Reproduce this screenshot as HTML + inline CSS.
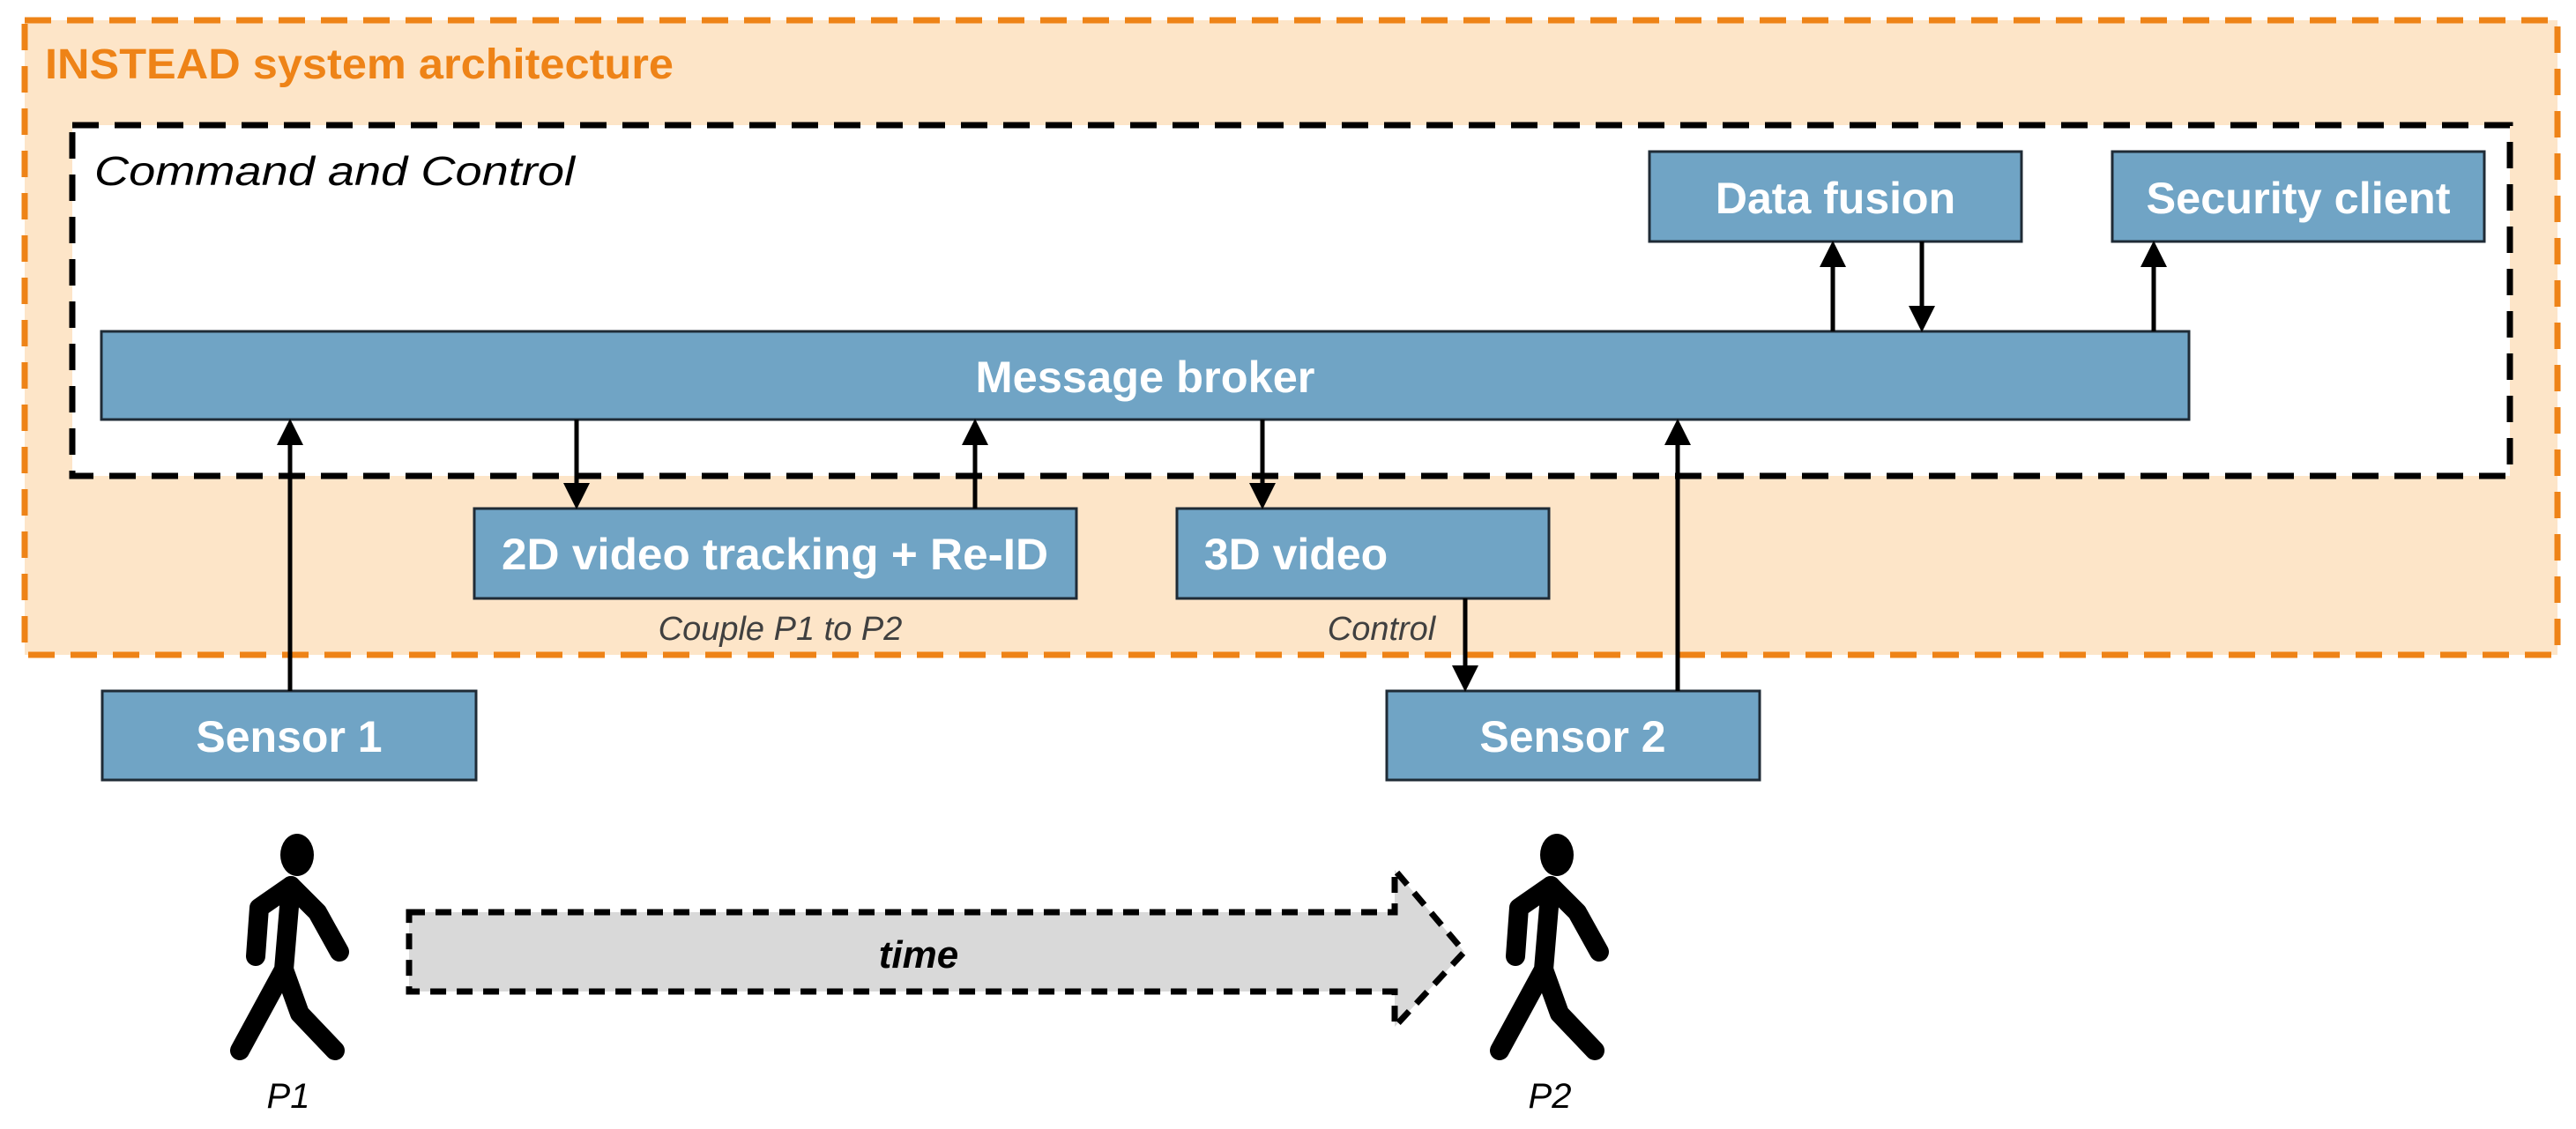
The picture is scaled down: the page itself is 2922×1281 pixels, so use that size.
<!DOCTYPE html>
<html><head><meta charset="utf-8"><style>
html,body{margin:0;padding:0;background:#fff;width:2922px;height:1281px;overflow:hidden}
svg{display:block}
text{font-family:"Liberation Sans",sans-serif}
.bx{fill:#70a4c5;stroke:#1f2b36;stroke-width:3}
.bt{fill:#fff;font-weight:bold;font-size:50px;text-anchor:middle}
.ar{stroke:#000;stroke-width:5;fill:none}
.fig{stroke:#000;stroke-width:22;stroke-linecap:round;stroke-linejoin:round;fill:none}
</style></head><body>
<svg width="2922" height="1281" viewBox="0 0 2922 1281" xmlns="http://www.w3.org/2000/svg">
<defs>
<marker id="ah" markerWidth="6" markerHeight="6" refX="5" refY="3" orient="auto" markerUnits="strokeWidth">
<path d="M0,0 L6,3 L0,6 z" fill="#000"/></marker>
</defs>
<rect x="28" y="23" width="2873" height="720" fill="#fde5c8" stroke="#ee8317" stroke-width="7" stroke-dasharray="30,18"/>
<text x="51" y="89" font-size="48" font-weight="bold" fill="#ee8317" textLength="713" lengthAdjust="spacingAndGlyphs">INSTEAD system architecture</text>
<rect x="82" y="142" width="2765" height="398" fill="#fff" stroke="#000" stroke-width="7" stroke-dasharray="30,18"/>
<text x="107" y="210" font-size="46" font-style="italic" fill="#000" textLength="545" lengthAdjust="spacingAndGlyphs">Command and Control</text>

<rect class="bx" x="115" y="376" width="2368" height="100"/>
<text class="bt" x="1299" y="445" textLength="385" lengthAdjust="spacingAndGlyphs">Message broker</text>
<rect class="bx" x="1871" y="172" width="422" height="102"/>
<text class="bt" x="2082" y="242">Data fusion</text>
<rect class="bx" x="2396" y="172" width="422" height="102"/>
<text class="bt" x="2607" y="242" textLength="345" lengthAdjust="spacingAndGlyphs">Security client</text>
<rect class="bx" x="538" y="577" width="683" height="102"/>
<text class="bt" x="879" y="646" textLength="620" lengthAdjust="spacingAndGlyphs">2D video tracking + Re-ID</text>
<rect class="bx" x="1335" y="577" width="422" height="102"/>
<text class="bt" x="1470" y="646">3D video</text>
<rect class="bx" x="116" y="784" width="424" height="101"/>
<text class="bt" x="328" y="853">Sensor 1</text>
<rect class="bx" x="1573" y="784" width="423" height="101"/>
<text class="bt" x="1784" y="853">Sensor 2</text>

<text x="885" y="726" font-size="38" font-style="italic" fill="#404040" text-anchor="middle">Couple P1 to P2</text>
<text x="1567" y="726" font-size="38" font-style="italic" fill="#404040" text-anchor="middle">Control</text>

<line class="ar" x1="329" y1="784" x2="329" y2="480" marker-end="url(#ah)"/>
<line class="ar" x1="654" y1="476" x2="654" y2="573" marker-end="url(#ah)"/>
<line class="ar" x1="1106" y1="577" x2="1106" y2="480" marker-end="url(#ah)"/>
<line class="ar" x1="1432" y1="476" x2="1432" y2="573" marker-end="url(#ah)"/>
<line class="ar" x1="1662" y1="679" x2="1662" y2="780" marker-end="url(#ah)"/>
<line class="ar" x1="1903" y1="784" x2="1903" y2="480" marker-end="url(#ah)"/>
<line class="ar" x1="2079" y1="376" x2="2079" y2="278" marker-end="url(#ah)"/>
<line class="ar" x1="2180" y1="274" x2="2180" y2="372" marker-end="url(#ah)"/>
<line class="ar" x1="2443" y1="376" x2="2443" y2="278" marker-end="url(#ah)"/>

<path d="M464,1035 L1582,1035 L1582,987 L1661,1080 L1582,1165 L1582,1125 L464,1125 Z" fill="#d9d9d9" stroke="#000" stroke-width="7" stroke-dasharray="18,12"/>
<text x="1042" y="1098" font-size="44" font-style="italic" font-weight="bold" text-anchor="middle" fill="#000">time</text>

<g>
<ellipse cx="337" cy="970" rx="19" ry="24" fill="#000"/>
<path class="fig" d="M290,1085 L294,1030 L330,1005 L360,1035 L385,1080"/>
<path class="fig" d="M330,1005 L322,1100 L272,1192"/>
<path class="fig" d="M322,1100 L340,1150 L380,1192"/>
</g>
<g>
<ellipse cx="1766" cy="970" rx="19" ry="24" fill="#000"/>
<path class="fig" d="M1719,1085 L1723,1030 L1759,1005 L1789,1035 L1814,1080"/>
<path class="fig" d="M1759,1005 L1751,1100 L1701,1192"/>
<path class="fig" d="M1751,1100 L1769,1150 L1809,1192"/>
</g>
<text x="327" y="1257" font-size="40" font-style="italic" fill="#000" text-anchor="middle">P1</text>
<text x="1758" y="1257" font-size="40" font-style="italic" fill="#000" text-anchor="middle">P2</text>
</svg>
</body></html>
